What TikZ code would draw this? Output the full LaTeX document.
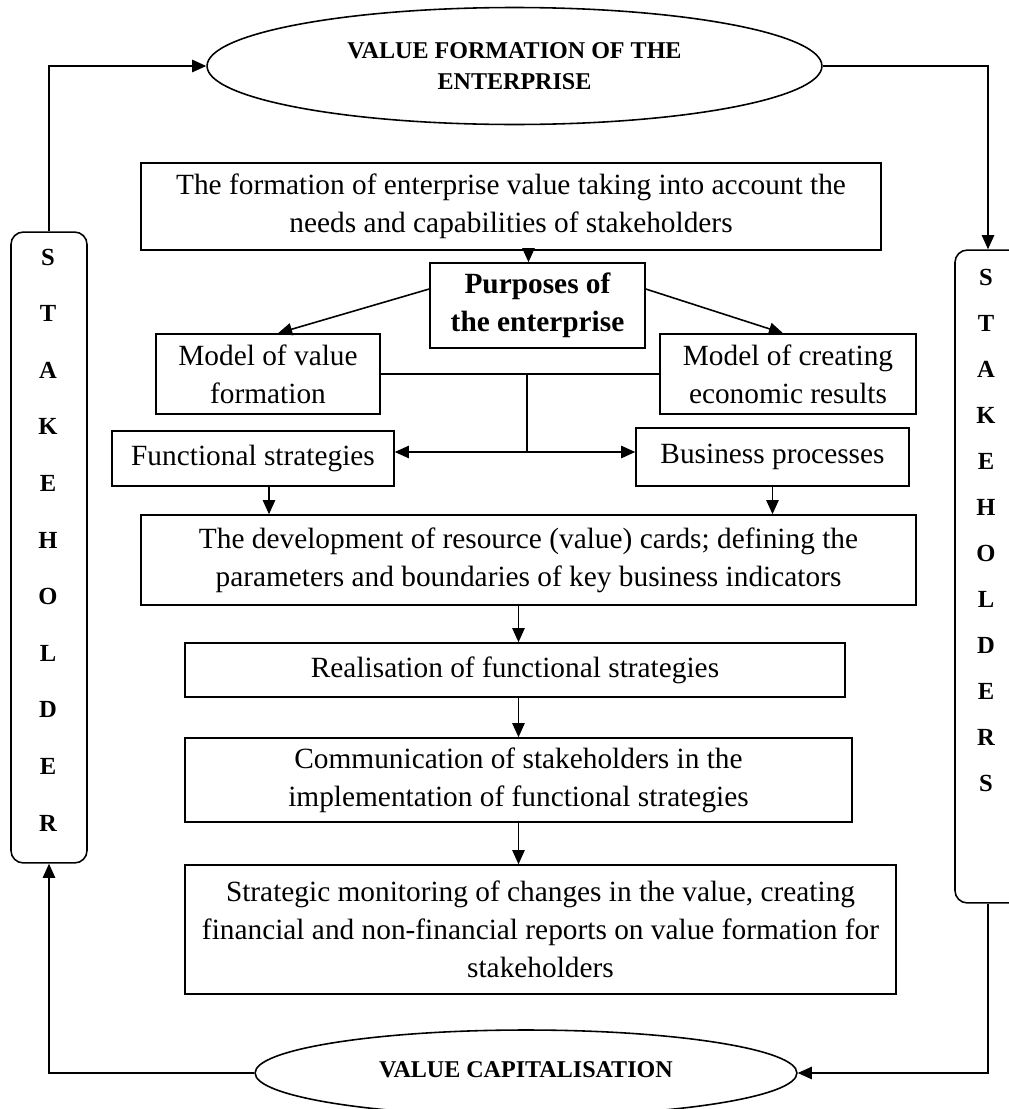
\documentclass[tikz,border=0pt]{standalone}
\usepackage{fontspec}
\setmainfont{Liberation Serif}
\usetikzlibrary{shapes.geometric,arrows.meta}

\begin{document}
\begin{tikzpicture}[x=0.02cm, y=-0.02cm,
    box/.style={draw, line width=0.9pt, inner sep=0, align=center, font=\fontsize{16.7}{21.5}\selectfont},
    oval/.style={draw, ellipse, line width=0.9pt, inner sep=0, align=center, font=\bfseries\fontsize{13.7}{18}\selectfont},
    sidebox/.style={draw, line width=0.9pt, rounded corners=7pt, inner sep=0},
    letter/.style={inner sep=0, font=\bfseries\fontsize{14}{16}\selectfont},
    arr/.style={line width=0.9pt, -{Triangle[length=8pt,width=7pt]}},
    ln/.style={line width=0.9pt}]

    \useasboundingbox (0,0) rectangle (1008,1109);

    % ovals
    \node[oval, minimum width=12.3cm, minimum height=2.34cm] (topell) at (514.5,66) {VALUE FORMATION OF THE\\ENTERPRISE};
    \node[oval, minimum width=10.84cm, minimum height=1.72cm] (botell) at (526,1073) {\raisebox{0.15cm}{VALUE CAPITALISATION}};

    % stakeholder bars
    \node[sidebox, minimum width=1.52cm, minimum height=12.62cm] (lbox) at (49,547.5) {};
    \foreach \l [count=\i] in {S,T,A,K,E,H,O,L,D,E,R}
        \node[letter] (ls\i) at (48,{257+56.6*(\i-1)}) {\l};
    \node[sidebox, minimum width=1.32cm, minimum height=13.06cm] (rbox) at (988,576.5) {};
    \foreach \l [count=\i] in {S,T,A,K,E,H,O,L,D,E,R,S}
        \node[letter] (rs\i) at (986,{277+46*(\i-1)}) {\l};

    % main column
    \node[box, minimum width=14.8cm, minimum height=1.74cm] (form) at (511,206.5) {The formation of enterprise value taking into account the\\needs and capabilities of stakeholders};
    \node[box, minimum width=4.3cm, minimum height=1.7cm, font=\bfseries\fontsize{16.7}{21.5}\selectfont] (purp) at (537.5,305.5) {Purposes of\\the enterprise};
    \node[box, minimum width=4.48cm, minimum height=1.6cm] (modval) at (268,374) {Model of value\\formation};
    \node[box, minimum width=5.12cm, minimum height=1.6cm] (modecon) at (788,374) {Model of creating\\economic results};
    \node[box, minimum width=5.64cm, minimum height=1.1cm] (funcstr) at (253,458.5) {Functional strategies};
    \node[box, minimum width=5.46cm, minimum height=1.16cm] (busproc) at (772.5,457) {Business processes};
    \node[box, minimum width=15.5cm, minimum height=1.8cm] (devel) at (528.5,560) {The development of resource (value) cards; defining the\\parameters and boundaries of key business indicators};
    \node[box, minimum width=13.2cm, minimum height=1.08cm] (realis) at (515,670) {Realisation of functional strategies};
    \node[box, minimum width=13.34cm, minimum height=1.68cm] (commun) at (518.5,780) {Communication of stakeholders in the\\implementation of functional strategies};
    \node[box, minimum width=14.22cm, minimum height=2.58cm] (monit) at (540.5,929.5) {Strategic monitoring of changes in the value, creating\\financial and non-financial reports on value formation for\\stakeholders};

    % outer loop
    \draw[arr] (lbox.north) |- (topell.west);
    \draw[arr] (topell.east) -| (rbox.north);
    \draw[arr] (rbox.south) |- (botell.east);
    \draw[arr] (botell.west) -| (lbox.south);

    % inner links
    \draw[arr] (form.south -| devel.north) -- (purp.north -| devel.north);
    \draw[arr] ([yshift=0.33cm]purp.west) -- ([xshift=0.2cm]modval.north);
    \draw[arr] ([yshift=0.33cm]purp.east) -- ([xshift=-0.1cm]modecon.north);
    \draw[ln] (modval.east) -- (modecon.west);
    \coordinate (junc) at (527,374);
    \coordinate (split) at (527,452);
    \draw[ln] (junc) -- (split);
    \draw[arr] (split) -- (split -| funcstr.east);
    \draw[arr] (split) -- (split -| busproc.west);
    \draw[arr] ([xshift=0.32cm]funcstr.south) -- ([xshift=0.32cm]funcstr.south |- devel.north);
    \draw[arr] (busproc.south) -- (busproc.south |- devel.north);
    \draw[arr] (devel.south -| commun.north) -- (realis.north -| commun.north);
    \draw[arr] (realis.south -| commun.north) -- (commun.north);
    \draw[arr] (commun.south) -- (commun.south |- monit.north);
\end{tikzpicture}
\end{document}
